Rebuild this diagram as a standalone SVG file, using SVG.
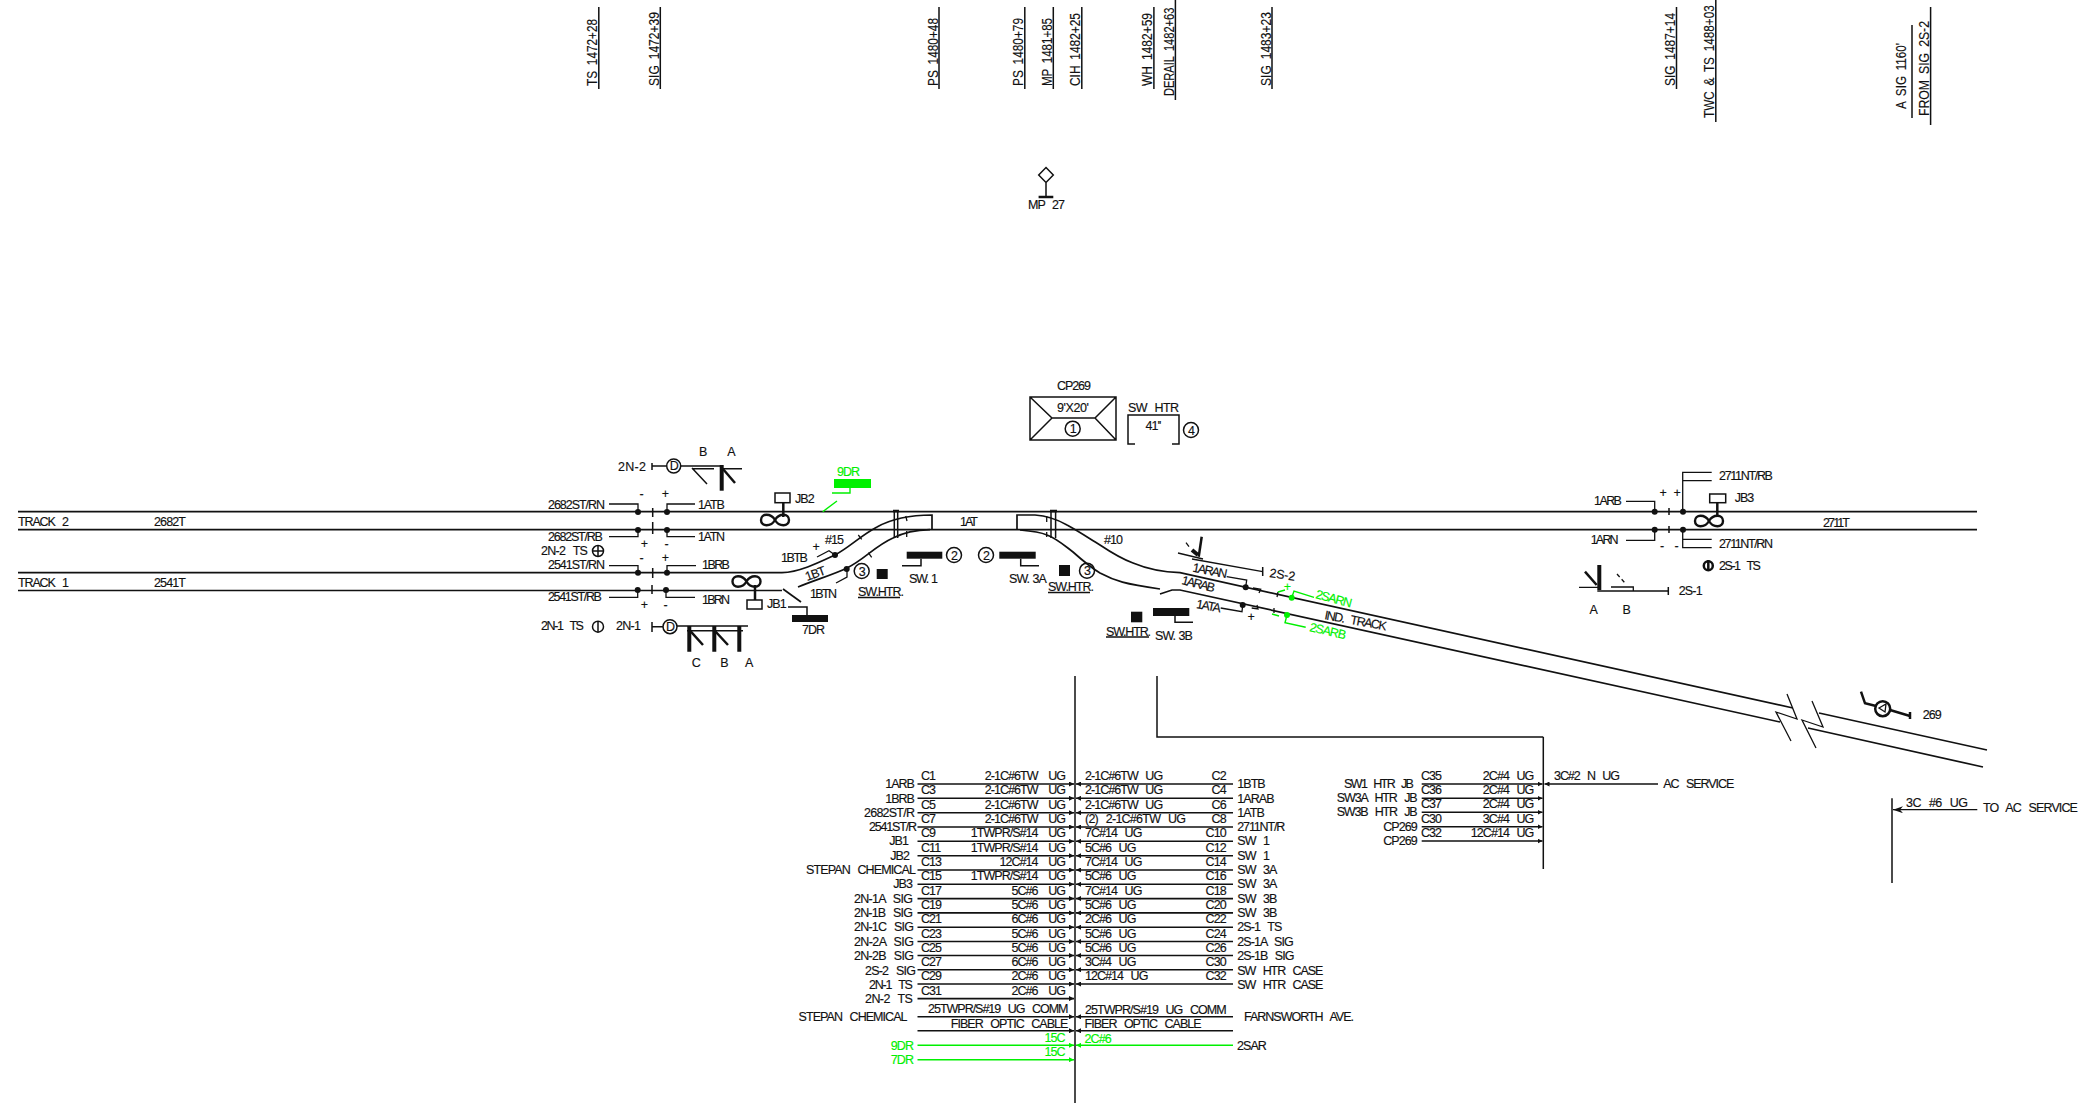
<svg xmlns="http://www.w3.org/2000/svg" width="2089" height="1103" viewBox="0 0 2089 1103">
<style>
text{font-family:"Liberation Sans",Arial,sans-serif;font-size:12.500px;letter-spacing:-.95px;word-spacing:5px;fill:#111;stroke:#111;stroke-width:.15}
.e{text-anchor:end}.m{text-anchor:middle}
.w{word-spacing:8px}
.v{font-size:14px;letter-spacing:0;word-spacing:3px}
text.g{fill:#00f000;stroke:#00f000}
.l{fill:none;stroke:#111;stroke-width:1.3}
.r{fill:none;stroke:#111;stroke-width:1.7}
.th{fill:none;stroke:#111;stroke-width:4}
.ar{fill:none;stroke:#111;stroke-width:2.5}
.c{fill:none;stroke:#111;stroke-width:1.5}
.wire{fill:none;stroke:#111;stroke-width:1.6;marker-end:url(#a)}
.gw{fill:none;stroke:#00f000;stroke-width:1.6;marker-end:url(#ag)}
.gl{fill:none;stroke:#00f000;stroke-width:1.4}
.d{fill:#111}.gd{fill:#00f000}
</style>
<defs>
<marker id="a" markerUnits="userSpaceOnUse" markerWidth="6" markerHeight="5" refX="5" refY="2.500" orient="auto"><path d="M0 0L5 2.500L0 5Z" fill="#111"/></marker>
<marker id="ag" markerUnits="userSpaceOnUse" markerWidth="6" markerHeight="5" refX="5" refY="2.500" orient="auto"><path d="M0 0L5 2.500L0 5Z" fill="#00f000"/></marker>
<marker id="b" markerUnits="userSpaceOnUse" markerWidth="11" markerHeight="7" refX="10" refY="3.500" orient="auto"><path d="M0 0L10 3.500L0 7L3 3.500Z" fill="#111"/></marker>
<path id="f8" d="M0 0C-4 -7 -14 -7 -14 0C-14 7 -4 7 0 0C4 -7 14 -7 14 0C14 7 4 7 0 0Z" fill="none" stroke="#111" stroke-width="2.400"/>
</defs>
<rect width="2089" height="1103" fill="#fff"/>

<g id="stations">
<path class="c" d="M598.800 7V89M660.300 7V89M939 7V89M1024.800 7V89M1053.300 7V89M1081.800 7V89M1153.900 7V89M1175.400 0V100M1272 7V89M1676.500 7V89M1715.800 0V122M1912 25V118M1930.600 7V125"/>
<text class="v" transform="translate(597.300 86) rotate(-90)" textLength="67" lengthAdjust="spacingAndGlyphs">TS 1472+28</text>
<text class="v" transform="translate(658.800 86) rotate(-90)" textLength="74" lengthAdjust="spacingAndGlyphs">SIG 1472+39</text>
<text class="v" transform="translate(937.500 86) rotate(-90)" textLength="68" lengthAdjust="spacingAndGlyphs">PS 1480+48</text>
<text class="v" transform="translate(1023.300 86) rotate(-90)" textLength="68" lengthAdjust="spacingAndGlyphs">PS 1480+79</text>
<text class="v" transform="translate(1051.800 86) rotate(-90)" textLength="68" lengthAdjust="spacingAndGlyphs">MP 1481+85</text>
<text class="v" transform="translate(1080.300 86) rotate(-90)" textLength="73" lengthAdjust="spacingAndGlyphs">CIH 1482+25</text>
<text class="v" transform="translate(1152.400 86) rotate(-90)" textLength="73" lengthAdjust="spacingAndGlyphs">WH 1482+59</text>
<text class="v" transform="translate(1173.900 96) rotate(-90) scale(.79 1)">DERAIL 1482+63</text>
<text class="v" transform="translate(1270.500 86) rotate(-90)" textLength="74" lengthAdjust="spacingAndGlyphs">SIG 1483+23</text>
<text class="v" transform="translate(1675 86) rotate(-90)" textLength="73" lengthAdjust="spacingAndGlyphs">SIG 1487+14</text>
<text class="v" transform="translate(1714.300 118) rotate(-90) scale(.84 1)">TWC &amp; TS 1488+03</text>
<text class="v" transform="translate(1905.600 109) rotate(-90)" textLength="66" lengthAdjust="spacingAndGlyphs">A SIG 1160'</text>
<text class="v" transform="translate(1929 116) rotate(-90)" textLength="95" lengthAdjust="spacingAndGlyphs">FROM SIG 2S-2</text>
</g>

<g id="mp27">
<path class="c" d="M1046 167.500L1053.300 175L1046 182.500L1038.700 175ZM1046 182.500V197"/>
<path class="ar" d="M1038.600 197H1053.300"/>
<text x="1028" y="209" textLength="36">MP 27</text>
</g>

<g id="cp269">
<text x="1057" y="390" textLength="33">CP269</text>
<path class="c" d="M1030 397H1116V440H1030ZM1030 397L1052 418H1095L1116 397M1030 440L1052 418M1116 440L1095 418"/>
<text x="1057" y="412" textLength="31">9'X20'</text>
<circle class="c" cx="1072.700" cy="428.700" r="7.500"/>
<text class="m" x="1072.700" y="433">1</text>
</g>

<g id="swhtr-case">
<text x="1128" y="412" textLength="50">SW HTR</text>
<path class="c" d="M1135 444H1128V415H1179V444H1172"/>
<text class="m" x="1153" y="430">41''</text>
<circle class="c" cx="1191" cy="430" r="7.500"/>
<text class="m" x="1191" y="434.500">4</text>
</g>

<g id="tracks">
<path class="r" d="M18 511.700H1977M18 529.700H1977M18 572.700H782M18 590.500H782"/>
<path class="r" d="M782 572.700C800 572 820 562 835 555C850 547 860 536 877 527C893 518 910 515 932 515V530"/>
<path class="r" d="M798 587C815 580 835 574 847 568C865 559 875 546 893 538C905 532 918 530 930 529.700"/>
<path class="r" d="M1017 530V515H1035C1050 516 1060 521 1067 525C1080 532 1090 539 1100 545C1112 553 1122 559 1133 563C1145 568 1160 572 1180 572.700L1793 708"/>
<path class="r" d="M1020 530C1032 531 1040 532 1047 535C1056 538 1065 546 1073 552C1082 560 1090 567 1100 573C1115 581 1125 584 1160 589"/>
<path class="r" d="M1160 594L1172 590H1180L1780 722"/>
<path class="r" d="M1819 713L1987 750M1808 728L1983 767"/>
<path class="l" d="M1787 694L1797 719L1776 712L1791 741M1812 701L1823 727L1802 720L1816 748"/>
<path class="r" d="M783 589L801 602"/>
<path class="c" d="M894.300 511V538M897.700 511V538M1051 511V538M1055.600 511V538"/>
<path class="ar" d="M893 511H899M1050 511H1057"/>
<path class="l" d="M858.300 535L861.700 539.300M868.300 552.700L871.700 557.300M905.700 516L907 521M906.700 531V537M1046.700 516V522M1046.700 532V537"/>
<text x="18" y="526" textLength="50">TRACK 2</text>
<text x="154" y="526" textLength="31">2682T</text>
<text x="18" y="587" textLength="50">TRACK 1</text>
<text x="154" y="587" textLength="31">2541T</text>
<text x="960" y="526" textLength="17">1AT</text>
<text x="1823" y="526.700" textLength="26">2711T</text>
<text x="1104" y="544">#10</text>
<text x="825" y="544">#15</text>
<text transform="translate(1324 619) rotate(10.500)" textLength="62">IND. TRACK</text>
<text transform="translate(807 581) rotate(-20)">1BT</text>
</g>

<g id="sig-2n2">
<text x="618" y="470.700" textLength="27">2N-2</text>
<path class="c" d="M652 463V470M652 466H666"/>
<circle class="c" cx="673.700" cy="466" r="7"/>
<text class="m" x="673.700" y="470">D</text>
<path class="c" d="M681 466H723M692 468.700H714M692 468L707 484M720 468.700H742"/>
<path class="th" d="M721.700 465V490.700"/>
<path class="ar" d="M723 469L735 483"/>
<text class="m" x="702.700" y="456">B</text>
<text class="m" x="731" y="456">A</text>
</g>

<g id="sig-2n1">
<text x="616" y="630" textLength="24">2N-1</text>
<text x="541" y="630" textLength="42">2N-1 TS</text>
<circle class="c" cx="598" cy="626.700" r="5.500"/>
<path class="c" d="M598 621V632"/>
<path class="c" d="M652 622V632M652 626.700H663"/>
<circle class="c" cx="670" cy="626.700" r="7"/>
<text class="m" x="670" y="631">D</text>
<path class="c" d="M677 626H748M687 630.700H743"/>
<path class="th" d="M689.300 626V651.700M714.300 626V651.700M739.300 626V651.700"/>
<path class="ar" d="M690 630.700L703 645M715 631L728 645"/>
<text class="m" x="695.700" y="667">C</text>
<text class="m" x="724" y="667">B</text>
<text class="m" x="748.700" y="667">A</text>
<text x="541" y="555" textLength="46">2N-2 TS</text>
<circle class="c" cx="598" cy="551" r="5.500"/>
<path class="c" d="M592.500 551H603.500M598 545.500V556.500"/>
</g>

<g id="insul-west">
<path class="l" d="M609 504H638V512M667 512V504H695M609 536.700H638V530M667 530V536.700H695M609 565.700H638V572.700M667 572.700V565.700H696M609 597.300H637.700V590M666 590V597.300H695"/>
<path class="c" d="M652.700 508V517M652.700 522V534M652.700 568V578M652 585V594"/>
<circle class="d" cx="638" cy="512" r="3"/><circle class="d" cx="667" cy="512" r="3"/>
<circle class="d" cx="638" cy="530" r="3"/><circle class="d" cx="667" cy="530" r="3"/>
<circle class="d" cx="638" cy="572.700" r="3"/><circle class="d" cx="667" cy="572.700" r="3"/>
<circle class="d" cx="637.700" cy="590" r="3"/><circle class="d" cx="666" cy="590" r="3"/>
<text x="548" y="508.700" textLength="56">2682ST/RN</text>
<text x="548" y="541" textLength="54">2682ST/RB</text>
<text x="548" y="569" textLength="56">2541ST/RN</text>
<text x="548" y="601" textLength="53">2541ST/RB</text>
<text x="698" y="508.700" textLength="26">1ATB</text>
<text x="698" y="541" textLength="26">1ATN</text>
<text x="702" y="569" textLength="27">1BRB</text>
<text x="702" y="604" textLength="27">1BRN</text>
<text class="m" x="641" y="498">-</text><text class="m" x="665" y="498">+</text>
<text class="m" x="644" y="548">+</text><text class="m" x="666" y="548">-</text>
<text class="m" x="641" y="562">-</text><text class="m" x="665" y="562">+</text>
<text class="m" x="644" y="609">+</text><text class="m" x="665" y="609">-</text>
</g>

<g id="jb2">
<rect class="c" x="775" y="493" width="15" height="9.700"/>
<path class="ar" d="M783.300 503V517"/>
<use href="#f8" x="775" y="520"/>
<text x="795" y="503">JB2</text>
</g>

<g id="jb1">
<rect class="c" x="747" y="600" width="15" height="9"/>
<path class="ar" d="M755 585V600"/>
<use href="#f8" x="746.500" y="581.500"/>
<text x="767" y="608">JB1</text>
</g>

<g id="dr9">
<text class="g" x="837" y="475.700">9DR</text>
<rect class="gd" x="834" y="479" width="37" height="9"/>
<path class="gl" d="M850 488V493H832M822.700 511.700L837 501"/>
</g>

<g id="dr7">
<rect class="d" x="792" y="615" width="36" height="7"/>
<path class="c" d="M807 615V607H788"/>
<text x="802" y="634">7DR</text>
</g>

<g id="sw1-west">
<text x="781" y="561.700" textLength="26">1BTB</text>
<text class="m" x="815.700" y="551">+</text>
<path class="l" d="M817 557L829 550.700L835 555M836 583L847 577V569"/>
<circle class="d" cx="835" cy="555" r="3"/><circle class="d" cx="846.700" cy="569" r="3"/>
<text x="810" y="597.700" textLength="26">1BTN</text>
<circle class="c" cx="861.700" cy="571" r="7.500"/>
<text class="m" x="861.700" y="575.500">3</text>
<rect class="d" x="876.700" y="569" width="11" height="10"/>
<text x="858" y="596" textLength="45">SW.HTR.</text>
<path class="c" d="M858 597.500H900"/>
</g>

<g id="sw1">
<rect class="d" x="906.700" y="551.700" width="35.600" height="7"/>
<path class="c" d="M921 558.700V565.700H902"/>
<circle class="c" cx="954" cy="555" r="7.500"/>
<text class="m" x="954" y="559.500">2</text>
<text x="909" y="583" textLength="28" style="word-spacing:1px">SW. 1</text>
</g>

<g id="sw3a">
<circle class="c" cx="986" cy="555" r="7.500"/>
<text class="m" x="986" y="559.500">2</text>
<rect class="d" x="999.300" y="551.700" width="36.400" height="7"/>
<path class="c" d="M1020.700 558.700V565.700H1039"/>
<text x="1009" y="583" textLength="37" style="word-spacing:1px">SW. 3A</text>
<rect class="d" x="1059" y="565" width="11" height="11"/>
<circle class="c" cx="1087" cy="570.700" r="7.500"/>
<text class="m" x="1087" y="575">3</text>
<text x="1048" y="591" textLength="45">SW.HTR.</text>
<path class="c" d="M1048 592.500H1090"/>
</g>

<g id="sw3b">
<rect class="d" x="1131" y="611.700" width="11.300" height="10.600"/>
<text x="1106" y="635.500" textLength="44">SW.HTR.</text>
<path class="c" d="M1106 637H1149"/>
<rect class="d" x="1153" y="608" width="36.300" height="8"/>
<path class="c" d="M1175 616V622.300H1193"/>
<text x="1155" y="640" textLength="37" style="word-spacing:1px">SW. 3B</text>
</g>

<g id="sig-2s2">
<path class="ar" d="M1201.700 536.700L1198.700 556.700"/>
<path class="th" d="M1192 550L1198 555"/>
<path class="l" d="M1186 542.700L1189 546.700M1178 553L1203 559M1192 559L1262.700 571.700"/>
<path class="c" d="M1262.700 567V576"/>
<text transform="translate(1269 577) rotate(8)" textLength="25">2S-2</text>
</g>

<g id="insul-south">
<text transform="translate(1192 571.500) rotate(11)" textLength="34">1ARAN</text>
<text transform="translate(1181 584) rotate(14)" textLength="33">1ARAB</text>
<text transform="translate(1195.700 608) rotate(10)" textLength="24">1ATA</text>
<path class="l" d="M1226.700 576.700L1246.700 580L1245.700 587M1253 588L1260.700 589.300L1259 593M1278 592L1277 597M1220.700 608L1242 611.700L1242.700 605M1251.700 608L1258 609L1257 605M1274 608V613"/>
<circle class="d" cx="1245.700" cy="587.300" r="3"/><circle class="d" cx="1242.700" cy="605" r="3"/>
<text class="m" x="1250.700" y="621">+</text>
<path class="gl" d="M1278 592L1285 590M1291.700 597.700L1294 591L1314 597.300M1272 614L1279 616M1287 615L1285 622.700L1305.700 627.300"/>
<circle class="gd" cx="1291.700" cy="597.700" r="3"/><circle class="gd" cx="1287" cy="615" r="3"/>
<text class="g m" x="1287" y="591">+</text>
<text class="g" transform="translate(1315 598) rotate(15)" textLength="36">2SARN</text>
<text class="g" transform="translate(1309 631) rotate(13)" textLength="36">2SARB</text>
</g>

<g id="insul-east">
<path class="l" d="M1626 501.300H1654.700V511.700M1682.700 511.700V472.300H1711.700M1682.700 480.700H1711.700M1626 540.300H1654.700V529.700M1682.700 529.700V547.700H1711.700M1682.700 539.300H1711.700"/>
<path class="c" d="M1669 508V515M1669 526V533"/>
<circle class="d" cx="1654.700" cy="511.700" r="3"/><circle class="d" cx="1683" cy="511.700" r="3"/>
<circle class="d" cx="1654.700" cy="529.700" r="3"/><circle class="d" cx="1683" cy="529.700" r="3"/>
<text x="1719" y="480" textLength="53">2711NT/RB</text>
<text x="1719" y="547.700" textLength="53">2711NT/RN</text>
<text x="1594" y="505" textLength="27">1ARB</text>
<text x="1590.700" y="544" textLength="27">1ARN</text>
<text class="m" x="1662.700" y="497">+</text><text class="m" x="1676.700" y="497">+</text>
<text class="m" x="1661.700" y="550">-</text><text class="m" x="1676" y="550">-</text>
</g>

<g id="jb3">
<rect class="c" x="1709.700" y="494" width="16" height="8.700"/>
<path class="ar" d="M1717.300 502.700V515"/>
<use href="#f8" x="1709" y="521"/>
<text x="1734.700" y="502.300">JB3</text>
</g>

<g id="sig-2s1">
<circle class="ar" cx="1708.300" cy="565.700" r="4.500"/>
<path class="ar" d="M1708.300 560V571"/>
<text x="1719" y="569.700" textLength="41">2S-1 TS</text>
<path class="th" d="M1599.300 565V590"/>
<path class="ar" d="M1585 571.700L1596.700 585"/>
<path class="l" d="M1579 587.300H1599.300M1597.300 591H1668.300M1611 587H1633.300V591"/>
<path class="l" stroke-dasharray="4 3" d="M1617 574L1625 583"/>
<path class="c" d="M1668.300 587V595"/>
<text x="1678.700" y="595" textLength="23">2S-1</text>
<text class="m" x="1593.300" y="614.300">A</text>
<text class="m" x="1626.300" y="614.300">B</text>
</g>

<g id="sig-269">
<circle class="ar" cx="1882.700" cy="708.700" r="7.500"/>
<path class="l" d="M1879 708L1886 704L1885 712Z"/>
<path class="ar" d="M1861 691.700L1865 703.300L1876 706M1890 710L1910 716"/>
<path class="ar" d="M1910 712V719"/>
<text x="1922.700" y="719.300">269</text>
</g>

<g id="connectors">
<path class="wire" d="M917.500 784H1074"/><path class="wire" d="M917.500 798.300H1074"/><path class="wire" d="M917.500 812.700H1074"/><path class="wire" d="M917.500 827H1074"/><path class="wire" d="M917.500 841.300H1074"/><path class="wire" d="M917.500 855.700H1074"/><path class="wire" d="M917.500 870H1074"/><path class="wire" d="M917.500 884.300H1074"/><path class="wire" d="M917.500 898.600H1074"/><path class="wire" d="M917.500 912.900H1074"/><path class="wire" d="M917.500 927.200H1074"/><path class="wire" d="M917.500 941.500H1074"/><path class="wire" d="M917.500 955.500H1074"/><path class="wire" d="M917.500 969.700H1074"/><path class="wire" d="M917.500 984H1074"/><path class="wire" d="M917.500 998.600H1074"/><path class="wire" d="M917.500 1016.700H1074"/><path class="wire" d="M917.500 1030.700H1074"/>
<path class="wire" d="M1233 784H1076"/><path class="wire" d="M1233 798.300H1076"/><path class="wire" d="M1233 812.700H1076"/><path class="wire" d="M1233 827H1076"/><path class="wire" d="M1233 841.300H1076"/><path class="wire" d="M1233 855.700H1076"/><path class="wire" d="M1233 870H1076"/><path class="wire" d="M1233 884.300H1076"/><path class="wire" d="M1233 898.600H1076"/><path class="wire" d="M1233 912.900H1076"/><path class="wire" d="M1233 927.200H1076"/><path class="wire" d="M1233 941.500H1076"/><path class="wire" d="M1233 955.500H1076"/><path class="wire" d="M1233 969.700H1076"/><path class="wire" d="M1233 984H1076"/><path class="wire" d="M1233 1016.700H1076"/><path class="wire" d="M1233 1030.700H1076"/>
<path class="gw" d="M917.500 1045.300H1074"/><path class="gw" d="M917.500 1059.700H1074"/><path class="gw" d="M1233 1045.300H1076"/>
<path class="wire" d="M1421.700 784H1542.500"/><path class="wire" d="M1421.700 798.300H1542.500"/><path class="wire" d="M1421.700 812.300H1542.500"/><path class="wire" d="M1421.700 826.700H1542.500"/><path class="wire" d="M1421.700 841H1542.500"/><path class="wire" d="M1658 784H1544.500"/>
<path class="c" d="M1075 676V1103M1157 676V737H1543.300M1543.300 737V869M1892 798.300V883"/>
<path class="l" style="marker-end:url(#b)" d="M1977.300 809.700H1893"/>
</g>

<g id="cable-left">
<text class="e" x="914" y="788.300">1ARB</text>
<text class="e" x="914" y="802.700">1BRB</text>
<text class="e" x="914" y="817" textLength="50">2682ST/R</text>
<text class="e" x="916" y="831" textLength="47">2541ST/R</text>
<text class="e" x="908" y="845">JB1</text>
<text class="e" x="909" y="860">JB2</text>
<text class="e" x="915" y="874.300" textLength="109">STEPAN CHEMICAL</text>
<text class="e" x="912" y="888.300">JB3</text>
<text class="e" x="912" y="902.700" textLength="58">2N-1A SIG</text>
<text class="e" x="912" y="917.300" textLength="58">2N-1B SIG</text>
<text class="e" x="913" y="931" textLength="59">2N-1C SIG</text>
<text class="e" x="913" y="945.700" textLength="59">2N-2A SIG</text>
<text class="e" x="913" y="960" textLength="59">2N-2B SIG</text>
<text class="e" x="915" y="975" textLength="50">2S-2 SIG</text>
<text class="e" x="912" y="989" textLength="43">2N-1 TS</text>
<text class="e" x="912" y="1003" textLength="47">2N-2 TS</text>
<text x="798.600" y="1021" textLength="108">STEPAN CHEMICAL</text>
<text class="g e" x="913" y="1049.700">9DR</text>
<text class="g e" x="913" y="1063.700">7DR</text>
</g>

<g id="cable-left-cond">
<text x="921" y="780">C1</text><text x="921" y="794.300">C3</text><text x="921" y="808.700">C5</text><text x="921" y="823">C7</text><text x="921" y="837.300">C9</text><text x="921" y="851.700">C11</text><text x="921" y="866">C13</text><text x="921" y="880.300">C15</text><text x="921" y="894.600">C17</text><text x="921" y="908.900">C19</text><text x="921" y="923.200">C21</text><text x="921" y="937.500">C23</text><text x="921" y="951.500">C25</text><text x="921" y="965.700">C27</text><text x="921" y="980">C29</text><text x="921" y="994.600">C31</text>
<text class="e w" x="1065" y="780">2-1C#6TW UG</text>
<text class="e w" x="1065" y="794.300">2-1C#6TW UG</text>
<text class="e w" x="1065" y="808.700">2-1C#6TW UG</text>
<text class="e w" x="1065" y="823">2-1C#6TW UG</text>
<text class="e w" x="1065" y="837.300">1TWPR/S#14 UG</text>
<text class="e w" x="1065" y="851.700">1TWPR/S#14 UG</text>
<text class="e w" x="1065" y="866">12C#14 UG</text>
<text class="e w" x="1065" y="880.300">1TWPR/S#14 UG</text>
<text class="e w" x="1065" y="894.600">5C#6 UG</text>
<text class="e w" x="1065" y="908.900">5C#6 UG</text>
<text class="e w" x="1065" y="923.200">6C#6 UG</text>
<text class="e w" x="1065" y="937.500">5C#6 UG</text>
<text class="e w" x="1065" y="951.500">5C#6 UG</text>
<text class="e w" x="1065" y="965.700">6C#6 UG</text>
<text class="e w" x="1065" y="980">2C#6 UG</text>
<text class="e w" x="1065" y="994.600">2C#6 UG</text>
<text x="928" y="1013.300" textLength="139.500">25TWPR/S#19 UG COMM</text>
<text x="950.700" y="1027.700" textLength="116.800">FIBER OPTIC CABLE</text>
<text class="g e" x="1064.600" y="1042">15C</text>
<text class="g e" x="1064.600" y="1056">15C</text>
</g>

<g id="cable-right-cond">
<text x="1085" y="780">2-1C#6TW UG</text>
<text x="1085" y="794.300">2-1C#6TW UG</text>
<text x="1085" y="808.700">2-1C#6TW UG</text>
<text x="1085" y="823" textLength="100">(2) 2-1C#6TW UG</text>
<text x="1085" y="837.300">7C#14 UG</text>
<text x="1085" y="851.700">5C#6 UG</text>
<text x="1085" y="866">7C#14 UG</text>
<text x="1085" y="880.300">5C#6 UG</text>
<text x="1085" y="894.600">7C#14 UG</text>
<text x="1085" y="908.900">5C#6 UG</text>
<text x="1085" y="923.200">2C#6 UG</text>
<text x="1085" y="937.500">5C#6 UG</text>
<text x="1085" y="951.500">5C#6 UG</text>
<text x="1085" y="965.700">3C#4 UG</text>
<text x="1085" y="980">12C#14 UG</text>
<text class="e" x="1225.700" y="780">C2</text><text class="e" x="1225.700" y="794.300">C4</text><text class="e" x="1225.700" y="808.700">C6</text><text class="e" x="1225.700" y="823">C8</text><text class="e" x="1225.700" y="837.300">C10</text><text class="e" x="1225.700" y="851.700">C12</text><text class="e" x="1225.700" y="866">C14</text><text class="e" x="1225.700" y="880.300">C16</text><text class="e" x="1225.700" y="894.600">C18</text><text class="e" x="1225.700" y="908.900">C20</text><text class="e" x="1225.700" y="923.200">C22</text><text class="e" x="1225.700" y="937.500">C24</text><text class="e" x="1225.700" y="951.500">C26</text><text class="e" x="1225.700" y="965.700">C30</text><text class="e" x="1225.700" y="980">C32</text>
<text x="1085" y="1014" textLength="140.700">25TWPR/S#19 UG COMM</text>
<text x="1084.600" y="1028" textLength="116">FIBER OPTIC CABLE</text>
<text class="g" x="1084.600" y="1042.700">2C#6</text>
</g>

<g id="cable-right">
<text x="1237.300" y="788.300">1BTB</text>
<text x="1237.300" y="802.700">1ARAB</text>
<text x="1237.300" y="817">1ATB</text>
<text x="1237.300" y="831" textLength="47">2711NT/R</text>
<text x="1237.300" y="845">SW 1</text>
<text x="1237.300" y="860">SW 1</text>
<text x="1237.300" y="874.300">SW 3A</text>
<text x="1237.300" y="888.300">SW 3A</text>
<text x="1237.300" y="902.700">SW 3B</text>
<text x="1237.300" y="917.300">SW 3B</text>
<text x="1237.300" y="931">2S-1 TS</text>
<text x="1237.300" y="945.700">2S-1A SIG</text>
<text x="1237.300" y="960">2S-1B SIG</text>
<text x="1237.300" y="975" textLength="85">SW HTR CASE</text>
<text x="1237.300" y="989" textLength="85">SW HTR CASE</text>
<text x="1244" y="1021" textLength="109">FARNSWORTH AVE.</text>
<text x="1237" y="1049.700">2SAR</text>
</g>

<g id="htr-cable">
<text class="e" x="1413" y="787.700" textLength="69">SW1 HTR JB</text>
<text class="e" x="1416.700" y="801.700" textLength="80">SW3A HTR JB</text>
<text class="e" x="1416.700" y="816" textLength="80">SW3B HTR JB</text>
<text class="e" x="1416.700" y="830.700">CP269</text>
<text class="e" x="1416.700" y="845">CP269</text>
<text x="1421" y="780">C35</text><text x="1421" y="794.300">C36</text><text x="1421" y="808.300">C37</text><text x="1421" y="822.700">C30</text><text x="1421" y="837">C32</text>
<text class="e" x="1533.300" y="780">2C#4 UG</text>
<text class="e" x="1533.300" y="794.300">2C#4 UG</text>
<text class="e" x="1533.300" y="808.300">2C#4 UG</text>
<text class="e" x="1533.300" y="822.700">3C#4 UG</text>
<text class="e" x="1533.300" y="837">12C#14 UG</text>
<text x="1554" y="780" textLength="65">3C#2 N UG</text>
<text x="1663.300" y="787.700" textLength="70">AC SERVICE</text>
<text x="1906" y="807" textLength="61">3C #6 UG</text>
<text x="1983" y="812" textLength="94">TO AC SERVICE</text>
</g>
</svg>
